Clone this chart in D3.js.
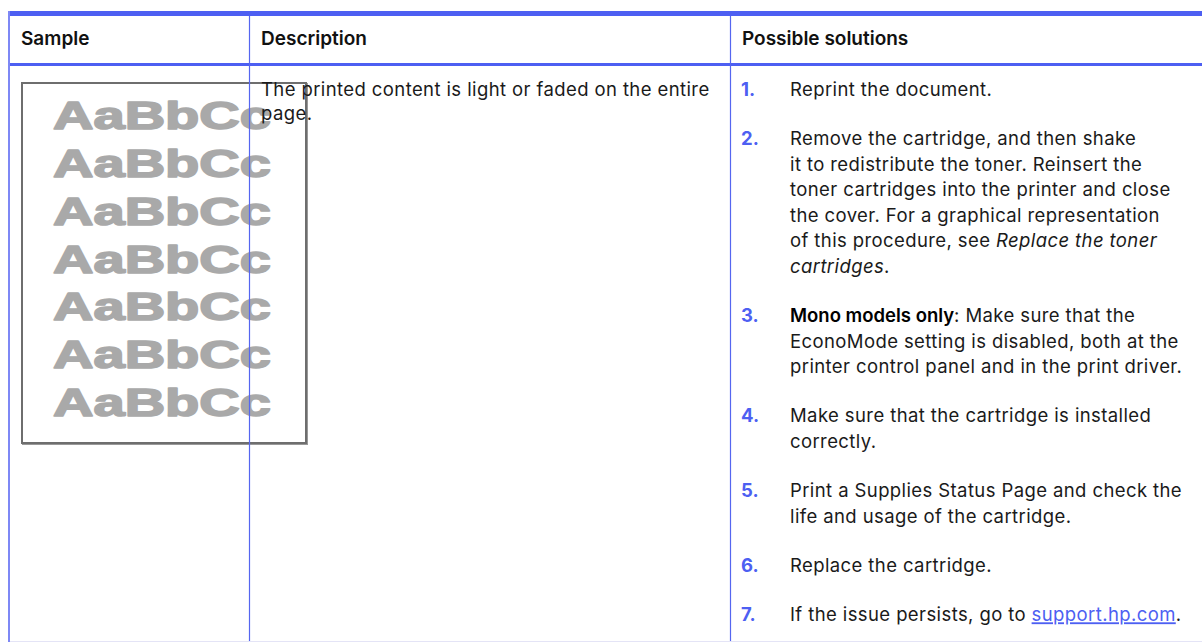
<!DOCTYPE html>
<html>
<head>
<meta charset="utf-8">
<script src="https://cdn.jsdelivr.net/npm/d3@7"></script>
<style>
  html, body { margin: 0; padding: 0; background: #ffffff; }
  svg { display: block; }
</style>
</head>
<body>
<svg id="chart" width="1202" height="642"></svg>
<script>
// ---------- data ----------
const headers = ["Sample", "Description", "Possible solutions"];
const sampleWord = "AaBbCc";
const sampleRepeats = [1, 2, 3, 4, 5, 6, 7];
const descriptionLines = [
  "The printed content is light or faded on the entire",
  "page."
];
const solutionNumbers = ["1.", "2.", "3.", "4.", "5.", "6.", "7."];
// markup: *italic*, **bold**, [link]
const solutionLines = [
  ["Reprint the document."],
  ["Remove the cartridge, and then shake",
   "it to redistribute the toner. Reinsert the",
   "toner cartridges into the printer and close",
   "the cover. For a graphical representation",
   "of this procedure, see *Replace the toner*",
   "*cartridges*."],
  ["**Mono models only**: Make sure that the",
   "EconoMode setting is disabled, both at the",
   "printer control panel and in the print driver."],
  ["Make sure that the cartridge is installed",
   "correctly."],
  ["Print a Supplies Status Page and check the",
   "life and usage of the cartridge."],
  ["Replace the cartridge."],
  ["If the issue persists, go to [support.hp.com]."]
];

// ---------- layout ----------
const W = 1202, H = 642;
const blue = "#4d5ff2";
const colEdges = [9, 249, 730, 1202];
const font = "Inter, 'Open Sans', sans-serif";
const bodySize = 18.5, bodySpacing = 0.4;
const svg = d3.select("#chart");

const col = d3.scaleOrdinal().domain(headers).range(colEdges.slice(0, 3));

// sample page box
const boxX = 22, boxY = 83, boxW = 284, boxH = 360;
svg.append("rect")
  .attr("x", boxX + 1).attr("y", boxY + 1).attr("width", boxW).attr("height", boxH)
  .attr("fill", "none").attr("stroke", "#555").attr("stroke-width", 2).attr("opacity", 0.6);
svg.append("rect")
  .attr("x", boxX).attr("y", boxY).attr("width", boxW).attr("height", boxH)
  .attr("fill", "#fff").attr("stroke", "#6e6e6e").attr("stroke-width", 2);

const ySample = d3.scaleLinear().domain([1, 7]).range([129, 416]);
svg.selectAll("text.sample").data(sampleRepeats).join("text")
  .attr("class", "sample")
  .attr("x", 53).attr("y", d => ySample(d))
  .attr("font-family", "'Liberation Sans', Arial, sans-serif")
  .attr("font-weight", "bold")
  .attr("font-size", 38)
  .attr("fill", "#a9a9a9")
  .attr("stroke", "#a9a9a9")
  .attr("stroke-width", 1.6)
  .attr("stroke-linejoin", "round")
  .attr("textLength", 218)
  .attr("lengthAdjust", "spacingAndGlyphs")
  .text(sampleWord);

// header
svg.selectAll("text.header").data(headers).join("text")
  .attr("class", "header")
  .attr("x", d => col(d) + 12)
  .attr("y", 45)
  .attr("font-family", font)
  .attr("font-weight", 600)
  .attr("font-size", 19)
  .attr("letter-spacing", "0")
  .attr("fill", "#111")
  .text(d => d);

// description
svg.selectAll("text.desc").data(descriptionLines).join("text")
  .attr("class", "desc")
  .attr("x", colEdges[1] + 12)
  .attr("y", (d, i) => 96 + i * 24)
  .attr("font-family", font)
  .attr("font-size", bodySize)
  .attr("letter-spacing", bodySpacing)
  .attr("fill", "#1a1a1a")
  .text(d => d);

// solutions
const lineH = 25.5, itemGap = 23.8;
let yCursor = 96;
const items = solutionLines.map((lines, i) => {
  const y0 = yCursor;
  yCursor += lines.length * lineH + itemGap;
  return { num: solutionNumbers[i], lines, y0 };
});

function parseSegments(line) {
  const segs = [];
  const re = /(\*\*[^*]+\*\*|\*[^*]+\*|\[[^\]]+\])/g;
  let last = 0, m;
  while ((m = re.exec(line)) !== null) {
    if (m.index > last) segs.push({ t: line.slice(last, m.index), s: "n" });
    const tok = m[0];
    if (tok.startsWith("**")) segs.push({ t: tok.slice(2, -2), s: "b" });
    else if (tok.startsWith("*")) segs.push({ t: tok.slice(1, -1), s: "i" });
    else segs.push({ t: tok.slice(1, -1), s: "l" });
    last = m.index + tok.length;
  }
  if (last < line.length) segs.push({ t: line.slice(last), s: "n" });
  return segs;
}

const g = svg.selectAll("g.item").data(items).join("g").attr("class", "item");
g.append("text")
  .attr("x", colEdges[2] + 11)
  .attr("y", d => d.y0)
  .attr("font-family", font)
  .attr("font-weight", 700)
  .attr("font-size", bodySize)
  .attr("fill", blue)
  .text(d => d.num);

g.each(function(d) {
  const gi = d3.select(this);
  d.lines.forEach((line, li) => {
    const t = gi.append("text")
      .attr("x", 790)
      .attr("y", d.y0 + li * lineH)
      .attr("font-family", font)
      .attr("font-size", bodySize)
      .attr("letter-spacing", bodySpacing)
      .attr("fill", "#1a1a1a");
    parseSegments(line).forEach(s => {
      const ts = t.append("tspan").text(s.t);
      if (s.s === "b") ts.attr("font-weight", 600).attr("fill", "#000").attr("letter-spacing", 0);
      if (s.s === "i") ts.attr("font-style", "italic");
      if (s.s === "l") ts.attr("fill", blue).attr("text-decoration", "underline");
    });
  });
});

// grid lines
svg.append("rect").attr("x", colEdges[0]).attr("y", 11).attr("width", W - colEdges[0]).attr("height", 5).attr("fill", blue);
svg.append("rect").attr("x", colEdges[0]).attr("y", 63).attr("width", W - colEdges[0]).attr("height", 3).attr("fill", blue);
svg.append("rect").attr("x", 8).attr("y", 11).attr("width", 2).attr("height", H - 11).attr("fill", "#7e88f5");
svg.selectAll("line.col").data(colEdges.slice(1, 3)).join("line")
  .attr("class", "col")
  .attr("x1", d => d + 0.5).attr("x2", d => d + 0.5)
  .attr("y1", 16).attr("y2", H)
  .attr("stroke", "#5566f0").attr("stroke-width", 1.2);
svg.append("line").attr("x1", 10).attr("x2", W).attr("y1", 641.5).attr("y2", 641.5)
  .attr("stroke", "#e4e4f6").attr("stroke-width", 1);
</script>
</body>
</html>
